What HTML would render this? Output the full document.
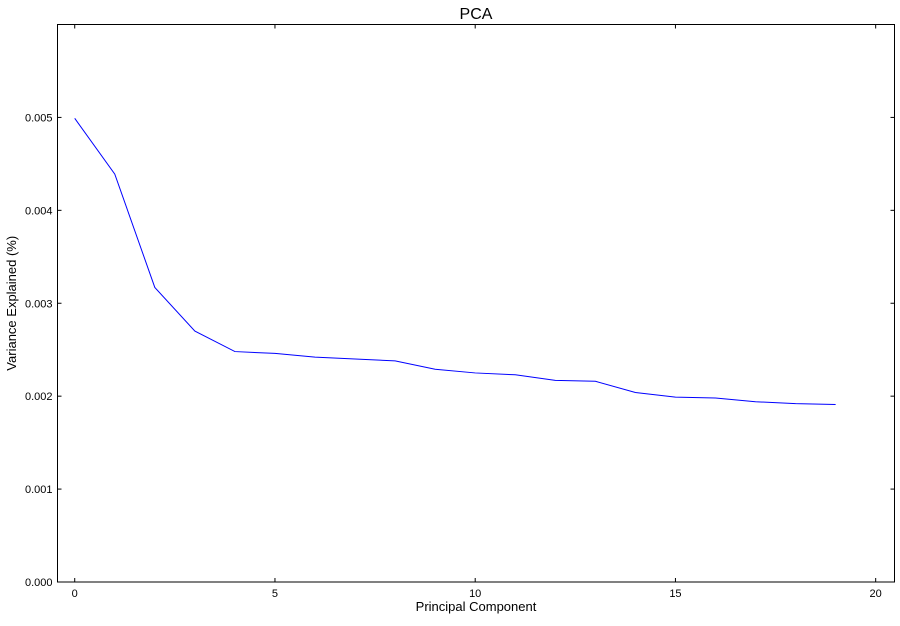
<!DOCTYPE html>
<html><head><meta charset="utf-8"><style>
body{margin:0;background:#fff;font-family:"Liberation Sans",sans-serif;}
svg text{font-family:"Liberation Sans",sans-serif;}
</style></head><body>
<svg id="chart" width="900" height="621"></svg>
<script>
const components=[0,1,2,3,4,5,6,7,8,9,10,11,12,13,14,15,16,17,18,19];
const variance=[0.00499,0.00439,0.00317,0.00270,0.00248,0.00246,0.00242,0.00240,0.00238,0.00229,0.00225,0.00223,0.00217,0.00216,0.00204,0.00199,0.00198,0.00194,0.00192,0.00191];
const xTicks=[0,5,10,15,20];
const yTicks=[0.000,0.001,0.002,0.003,0.004,0.005];
const L=57.5,R=894.5,T=24.5,B=582;
const xMin=-0.43,xMax=20.47,yMin=0,yMax=0.006;
const sx=v=>L+(v-xMin)/(xMax-xMin)*(R-L);
const sy=v=>B-(v-yMin)/(yMax-yMin)*(B-T);
const svg=document.getElementById('chart');
const NS='http://www.w3.org/2000/svg';
function mk(t,a){const e=document.createElementNS(NS,t);for(const k in a)e.setAttribute(k,a[k]);svg.appendChild(e);return e;}
let line=mk('polyline',{points:components.map((c,i)=>sx(c)+','+sy(variance[i])).join(' '),fill:'none',stroke:'#0000ff','stroke-width':1});


xTicks.forEach(t=>{
  const x=sx(t);
  let g=mk('line',{x1:x,x2:x,y1:B,y2:B-4,stroke:'#000'});
  
  
  mk('line',{x1:x,x2:x,y1:T,y2:T+4,stroke:'#000'});
  let tx=mk('text',{x:x,y:B+15,'text-anchor':'middle','font-size':11});
  tx.textContent=t;
  
  
});
yTicks.forEach(t=>{
  const y=sy(t);
  let g=mk('line',{x1:L,x2:L+4,y1:y,y2:y,stroke:'#000'});
  
  
  mk('line',{x1:R,x2:R-4,y1:y,y2:y,stroke:'#000'});
  let tx=mk('text',{x:L-5,y:y+4,'text-anchor':'end','font-size':11});
  tx.textContent=t.toFixed(3);
  
  
});
let f=mk('rect',{x:L,y:T,width:R-L,height:B-T,fill:'none',stroke:'#000','stroke-width':1});


let ti=mk('text',{x:(L+R)/2,y:19,'text-anchor':'middle','font-size':16});
ti.textContent='PCA';


let xl=mk('text',{x:(L+R)/2,y:611,'text-anchor':'middle','font-size':13});
xl.textContent='Principal Component';


let yl=mk('text',{x:16,y:(T+B)/2,'text-anchor':'middle','font-size':13,transform:'rotate(-90 16 '+((T+B)/2)+')'});
yl.textContent='Variance Explained (%)';


</script>
</body></html>
